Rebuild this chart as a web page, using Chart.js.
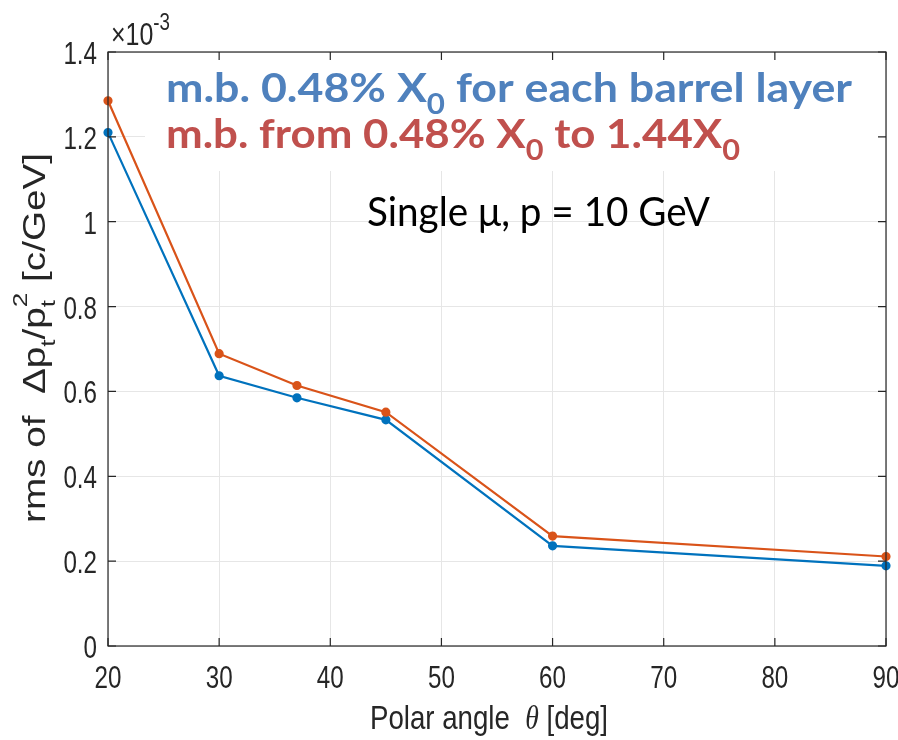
<!DOCTYPE html>
<html>
<head>
<meta charset="utf-8">
<title>rms of Δpt/pt² vs polar angle</title>
<script src="https://cdn.jsdelivr.net/npm/chart.js@4/dist/chart.umd.min.js"></script>
<style>
  html, body { margin: 0; padding: 0; background: #fff; }
  #wrap { width: 898px; height: 740px; }
</style>
</head>
<body>
<div id="wrap"><canvas id="res-chart" width="898" height="740"></canvas></div>
<script>
// polar angle of the muon track, degrees
const angles = [20, 30, 37, 45, 60, 90];
// rms of Δpt/pt² in units of 1e-3 c/GeV
const rmsUniform = [1.21, 0.637, 0.585, 0.533, 0.236, 0.189];   // 0.48% X0 per barrel layer
const rmsGraded = [1.285, 0.689, 0.614, 0.551, 0.259, 0.211];   // 0.48% X0 up to 1.44 X0
const xTickValues = [20, 30, 40, 50, 60, 70, 80, 90];
const xTickLabels = ['20', '30', '40', '50', '60', '70', '80', '90'];
const yTickValues = [0, 0.2, 0.4, 0.6, 0.8, 1, 1.2, 1.4];
const yTickLabels = ['0', '0.2', '0.4', '0.6', '0.8', '1', '1.2', '1.4'];

const AXIS = '#262626';
const SANS = '"Liberation Sans", Arial, sans-serif';
const LABEL_FONT = 'Lato, "Open Sans", sans-serif';
const SQUEEZE = 0.78;   // condensed look for the axis lettering

function toPoints(ys) {
  return angles.map((a, i) => ({ x: a, y: ys[i] }));
}

// draw a row of text runs (with sub/superscripts); width squeezes the row to fit,
// otherwise sx is used as a horizontal scale factor
function drawRuns(ctx, runs, x, y, width, sx) {
  let total = 0;
  runs.forEach(r => {
    ctx.font = r.font;
    r.w = ctx.measureText(r.text).width;
    if (!r.stack) total += r.w;
  });
  ctx.save();
  ctx.translate(x, y);
  if (width) ctx.scale(width / total, 1);
  else if (sx) ctx.scale(sx, 1);
  ctx.textBaseline = 'alphabetic';
  ctx.textAlign = 'left';
  let cx = 0;
  runs.forEach(r => {
    ctx.font = r.font;
    ctx.fillStyle = r.color;
    ctx.fillText(r.text, cx, r.dy || 0);
    if (!r.stack) cx += r.w;
  });
  ctx.restore();
}

function squeezedText(ctx, text, x, y, align) {
  ctx.save();
  ctx.translate(x, y);
  ctx.scale(SQUEEZE, 1);
  ctx.textAlign = align;
  ctx.textBaseline = 'alphabetic';
  ctx.fillText(text, 0, 0);
  ctx.restore();
}

const decorations = {
  id: 'decorations',
  beforeDatasetsDraw(chart) {
    const { ctx, chartArea: a } = chart;
    // blank panel behind the two-line caption
    ctx.save();
    ctx.fillStyle = '#fff';
    ctx.fillRect(145, a.top + 1, a.right - 145 - 1, 170 - a.top);
    ctx.restore();
  },
  afterDraw(chart) {
    const { ctx, chartArea: a, scales } = chart;
    ctx.save();
    // axes box
    ctx.strokeStyle = AXIS;
    ctx.lineWidth = 1.2;
    ctx.strokeRect(a.left, a.top, a.right - a.left, a.bottom - a.top);
    // inward ticks on all four sides
    const tl = 8;
    ctx.beginPath();
    xTickValues.forEach(v => {
      const px = scales.x.getPixelForValue(v);
      ctx.moveTo(px, a.bottom); ctx.lineTo(px, a.bottom - tl);
      ctx.moveTo(px, a.top); ctx.lineTo(px, a.top + tl);
    });
    yTickValues.forEach(v => {
      const py = scales.y.getPixelForValue(v);
      ctx.moveTo(a.left, py); ctx.lineTo(a.left + tl, py);
      ctx.moveTo(a.right, py); ctx.lineTo(a.right - tl, py);
    });
    ctx.stroke();

    // tick labels
    ctx.fillStyle = AXIS;
    ctx.font = '31px ' + SANS;
    xTickValues.forEach((v, i) => {
      squeezedText(ctx, xTickLabels[i], scales.x.getPixelForValue(v), a.bottom + 42, 'center');
    });
    yTickValues.forEach((v, i) => {
      squeezedText(ctx, yTickLabels[i], a.left - 11, scales.y.getPixelForValue(v) + 12, 'right');
    });

    // exponent above the y axis
    drawRuns(ctx, [
      { text: '\u00d710', font: '32px ' + SANS, color: AXIS },
      { text: '-3', font: '24px ' + SANS, color: AXIS, dy: -15 }
    ], 111, 45, 0, SQUEEZE);

    // x axis title
    drawRuns(ctx, [
      { text: 'Polar angle  ', font: '34px ' + SANS, color: AXIS },
      { text: '\u03b8', font: 'italic 34px "Liberation Serif", "DejaVu Serif", serif', color: AXIS },
      { text: ' [deg]', font: '34px ' + SANS, color: AXIS }
    ], 370, 729, 238);

    // y axis title, rotated
    ctx.save();
    ctx.translate(45, 523);
    ctx.rotate(-Math.PI / 2);
    drawRuns(ctx, [
      { text: 'rms of  \u0394p', font: '31px ' + SANS, color: AXIS },
      { text: 't', font: '21px ' + SANS, color: AXIS, dy: 10 },
      { text: '/p', font: '31px ' + SANS, color: AXIS },
      { text: 't', font: '21px ' + SANS, color: AXIS, dy: 10, stack: true },
      { text: '2', font: '21px ' + SANS, color: AXIS, dy: -18 },
      { text: ' [c/GeV]', font: '31px ' + SANS, color: AXIS }
    ], 0, 0, 370);
    ctx.restore();

    // caption
    const blue = '#4f81bd', red = '#c0504d';
    drawRuns(ctx, [
      { text: 'm.b. 0.48% X', font: 'bold 40px ' + LABEL_FONT, color: blue },
      { text: '0', font: 'bold 28px ' + LABEL_FONT, color: blue, dy: 12 },
      { text: ' for each barrel layer', font: 'bold 40px ' + LABEL_FONT, color: blue }
    ], 166, 102, 686);
    drawRuns(ctx, [
      { text: 'm.b. from 0.48% X', font: 'bold 40px ' + LABEL_FONT, color: red },
      { text: '0', font: 'bold 28px ' + LABEL_FONT, color: red, dy: 12 },
      { text: ' to 1.44X', font: 'bold 40px ' + LABEL_FONT, color: red },
      { text: '0', font: 'bold 28px ' + LABEL_FONT, color: red, dy: 12 }
    ], 166, 148, 574);
    drawRuns(ctx, [
      { text: 'Single \u03bc, p = 10 GeV', font: '40px ' + LABEL_FONT, color: '#000' }
    ], 367, 226, 343);
    ctx.restore();
  }
};

const ctx = document.getElementById('res-chart').getContext('2d');
new Chart(ctx, {
  type: 'line',
  data: {
    datasets: [
      {
        label: 'm.b. 0.48% X0 for each barrel layer',
        data: toPoints(rmsUniform),
        borderColor: '#0072bd',
        backgroundColor: '#0072bd',
        borderWidth: 2.2,
        pointRadius: 3.5,
        pointHoverRadius: 3.5,
        tension: 0,
        clip: false,
        order: 1
      },
      {
        label: 'm.b. from 0.48% X0 to 1.44X0',
        data: toPoints(rmsGraded),
        borderColor: '#d95319',
        backgroundColor: '#d95319',
        borderWidth: 2.2,
        pointRadius: 3.5,
        pointHoverRadius: 3.5,
        tension: 0,
        clip: false,
        order: 0
      }
    ]
  },
  options: {
    responsive: false,
    animation: false,
    devicePixelRatio: 1,
    layout: { padding: { top: 52, right: 12, left: 0, bottom: 0 } },
    plugins: {
      legend: { display: false },
      tooltip: { enabled: false }
    },
    scales: {
      x: {
        type: 'linear',
        min: 20,
        max: 90,
        afterBuildTicks: s => { s.ticks = xTickValues.map(v => ({ value: v })); },
        afterFit: s => { s.height = 94; s.paddingLeft = 0; s.paddingRight = 0; },
        grid: { color: '#e6e6e6', lineWidth: 1, drawTicks: false },
        border: { display: false },
        ticks: { display: false }
      },
      y: {
        type: 'linear',
        min: 0,
        max: 1.4,
        afterBuildTicks: s => { s.ticks = yTickValues.map(v => ({ value: v })); },
        afterFit: s => { s.width = 108; s.paddingTop = 0; s.paddingBottom = 0; },
        grid: { color: '#e6e6e6', lineWidth: 1, drawTicks: false },
        border: { display: false },
        ticks: { display: false }
      }
    }
  },
  plugins: [decorations]
});
</script>
</body>
</html>
